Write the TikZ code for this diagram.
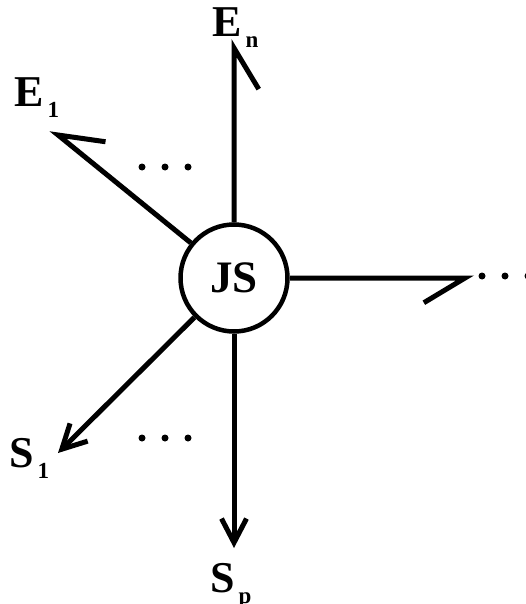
\documentclass[tikz,border=0pt]{standalone}
\usepackage{fontspec}
\setmainfont{Liberation Serif}
\usetikzlibrary{arrows.meta,calc}

\newcommand{\sublab}[2]{#1\kern4pt\raisebox{-11pt}{\fontsize{23}{23}\selectfont #2}}

\tikzset{
  wire/.style={line width=5pt, line join=miter},
  outarrow/.style={wire, -{Straight Barb[length=24pt,width=25pt]}},
  lab/.style={font=\fontsize{44}{44}\selectfont\bfseries, inner sep=0pt, anchor=base west},
  hub/.style={circle, draw, line width=4.5pt, minimum size=107pt, inner sep=0pt,
    font=\fontsize{45}{45}\selectfont\bfseries}
}

\begin{document}
\begin{tikzpicture}[x=1pt,y=-1pt]
\useasboundingbox (0,0) rectangle (526,604);
\node[hub] (js) at (234,278) {JS};
% free ends of the arms
\coordinate (e1tip) at (58,135);
\coordinate (entip) at (234,48);
\coordinate (ertip) at (465,278);
\coordinate (s1tip) at (58,453);
\coordinate (sptip) at (234,548);
% inputs with half barbs
\draw[wire] (js) -- (e1tip) -- ($(e1tip)!48pt!31:(js)$);
\draw[wire] (js) -- (entip) -- ($(entip)!48pt!31:(js)$);
\draw[wire] (js) -- (ertip) -- ($(ertip)!48pt!31:(js)$);
% outputs
\draw[outarrow] (js) -- (s1tip);
\draw[outarrow] (js) -- (sptip);
% labels
\node[lab] (e1) at (14,107) {\sublab{E}{1}};
\node[lab] (en) at (212,37) {\sublab{E}{n}};
\node[lab] (s1) at (9,467) {\sublab{S}{1}};
\node[lab] (sp) at (210,592) {\sublab{S}{p}};
% dots
\foreach \x in {142,165,188} {
  \fill (\x,167) circle (3.5pt);
  \fill (\x,438) circle (3.5pt);
}
\foreach \x in {482,505,528}
  \fill (\x,276) circle (3.5pt);
\end{tikzpicture}
\end{document}
